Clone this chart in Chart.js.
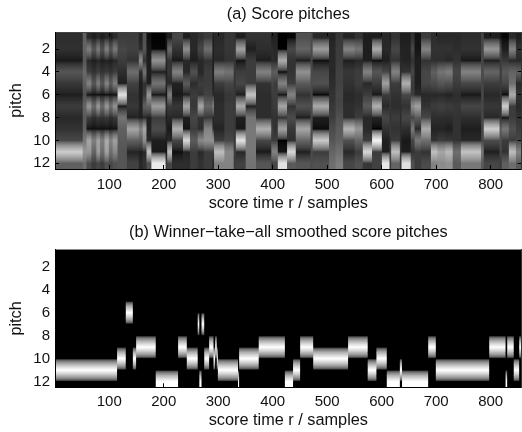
<!DOCTYPE html>
<html><head><meta charset="utf-8">
<style>
html,body{margin:0;padding:0;background:#fff;width:522px;height:432px;overflow:hidden}
.p{position:absolute;left:0;width:522px;height:216px}
canvas{filter:blur(0.35px)}
</style>
<script src="https://cdn.jsdelivr.net/npm/chart.js@4"></script>
</head><body>
<div class="p" style="top:0"><canvas id="a"></canvas></div>
<div class="p" style="top:216px"><canvas id="b"></canvas></div>
<script>
const pitchTicks=[2,4,6,8,10,12];
const timeTicks=[100,200,300,400,500,600,700,800];
const titleA='(a) Score pitches';
const titleB='(b) Winner\u2212take\u2212all smoothed score pitches';
const xLabel='score time r / samples';
const yLabel='pitch';
// Panel (a): column edges in samples, and one grey level per pitch 1..12 for each column
const scoreEdges=[0.5,52,59,68,77,84,92,100,107,116,133,155,162,169,178,204,207,216,236,249,263,274,290,293,312,329,333,351,370,398,402,410,427,443,470,474,504,516,530,551,566,583,601,615,618,634,637,654,661,673,691,703,717,731,746,783,788,817,821,834,847,857];
const c01=[45,48,25,85,55,30,60,40,50,70,205,95];
const c02=[95,100,85,105,95,80,100,90,95,120,150,110];
const c03=[40,125,40,60,130,15,150,60,15,165,150,75];
const c04=[30,85,30,50,85,15,105,45,15,125,100,60];
const c05=[40,120,40,60,125,12,150,55,15,160,155,70];
const c06=[30,80,30,50,85,15,105,50,15,125,110,60];
const c07=[40,125,35,55,130,12,150,55,15,170,160,80];
const c08=[30,85,30,50,90,15,110,45,15,130,110,70];
const c09=[45,120,40,60,125,15,145,55,20,160,135,80];
const c10=[60,70,60,45,30,225,25,115,95,90,85,85];
const c11=[60,65,50,110,65,50,55,35,165,95,35,65];
const c12=[35,45,140,45,30,30,35,30,130,90,30,40];
const c13=[80,85,50,115,50,55,95,40,165,140,40,50];
const c14=[15,25,30,30,30,150,100,30,35,40,195,80];
const c15=[0,5,145,30,115,22,155,60,75,30,25,235];
const c16=[20,20,40,30,40,20,40,30,40,30,20,60];
const c17=[30,105,50,55,40,125,60,40,25,40,190,70];
const c18=[70,50,25,130,35,25,55,40,175,70,15,45];
const c19=[30,140,40,40,90,30,165,30,20,215,35,45];
const c20=[40,40,30,80,45,60,55,70,60,90,60,60];
const c21=[50,70,40,40,60,50,165,50,45,135,40,50];
const c22=[60,110,50,60,60,65,100,55,130,145,60,60];
const c23=[30,30,30,30,30,40,130,40,40,150,60,40];
const c24=[40,45,40,125,60,40,45,45,35,60,190,130];
const c25=[55,55,50,115,70,55,60,60,60,70,135,130];
const c26=[50,55,55,55,55,55,55,55,55,55,60,60];
const c27=[30,160,20,60,70,30,170,30,25,225,40,65];
const c28=[50,30,60,60,60,195,30,115,120,120,120,115];
const c29=[50,45,30,130,50,45,45,45,175,70,25,85];
const c30=[30,45,45,90,70,60,55,50,60,60,130,60];
const c31=[35,40,40,95,60,60,60,50,50,60,130,70];
const c32=[0,0,170,10,130,20,165,50,160,0,20,225];
const c33=[5,70,50,50,60,130,50,75,55,45,215,90];
const c34=[80,100,30,145,90,50,80,30,165,100,30,85];
const c35=[75,75,70,75,75,70,75,70,75,75,75,75];
const c36=[40,155,15,70,80,5,170,30,10,200,60,80];
const c37=[35,40,40,40,45,50,55,60,75,85,100,110];
const c38=[55,60,60,65,65,70,70,80,90,95,110,125];
const c39=[35,130,30,55,50,40,45,45,180,80,40,70];
const c40=[50,115,40,60,60,45,50,60,150,100,60,80];
const c41=[30,30,30,130,40,60,90,40,40,60,215,55];
const c42=[30,170,15,85,60,25,175,35,0,245,60,65];
const c43=[40,40,30,70,160,60,40,70,50,30,30,230];
const c44=[30,40,50,50,60,60,55,50,60,50,60,60];
const c45=[50,70,50,130,60,50,45,60,50,60,190,100];
const c46=[30,35,40,45,50,50,45,45,45,45,50,55];
const c47=[30,35,35,50,175,70,50,70,45,25,30,225];
const c48=[50,70,50,70,60,60,140,70,120,70,50,80];
const c49=[20,20,30,30,30,40,160,90,40,120,60,60];
const c50=[60,130,50,70,70,40,50,70,170,110,50,75];
const c51=[45,50,45,95,75,40,60,45,35,50,190,130];
const c52=[40,50,45,115,85,40,65,45,35,60,165,140];
const c53=[40,50,40,125,80,35,60,45,30,55,185,145];
const c54=[40,45,50,70,60,45,55,50,50,50,110,90];
const c55=[45,50,25,130,70,25,70,45,30,40,195,120];
const c56=[70,70,70,75,70,70,70,70,70,70,120,90];
const c57=[30,150,30,100,60,40,55,40,205,75,30,70];
const c58=[20,70,60,60,60,50,50,50,90,80,70,60];
const c59=[5,30,55,90,70,10,205,20,120,60,50,95];
const c60=[40,130,40,100,110,170,60,60,80,60,190,110];
const c61=[30,50,40,95,40,50,40,50,60,70,130,90];
const scoreColumns=[c01,c02,c03,c04,c05,c06,c07,c08,c09,c10,c11,c12,c13,c14,c15,c16,c17,c18,c19,c20,c21,c22,c23,c24,c25,c26,c27,c28,c29,c30,c31,c32,c33,c34,c35,c36,c37,c38,c39,c40,c41,c42,c43,c44,c45,c46,c47,c48,c49,c50,c51,c52,c53,c54,c55,c56,c57,c58,c59,c60,c61];
// Panel (b): winner pitch over time
const winnerEdges=[0.5,115,131,144,150,186,227,243,263,266,270,275,284,292,295,298,300,337,339,375,423,438,451,475,539,575,591,610,634,638,686,700,798,828,831,843,853,857];
const winnerPitch=[11,10,6,10,9,12,9,10,7,12,7,10,9,10,9,10,11,12,10,9,12,11,9,10,9,11,10,12,11,12,9,11,9,12,9,11,9];
const winnerColumns=winnerPitch.map(w=>Array.from({length:12},(_,i)=>i+1===w?255:0));

const pitches=[1,2,3,4,5,6,7,8,9,10,11,12];
const FS=15, LS=16.3;
function grey(g){g=Math.round(Math.max(0,Math.min(255,g)));return 'rgb('+g+','+g+','+g+')';}
function fixedTicks(vals){return s=>{s.ticks=vals.map(v=>({value:v}));};}
const blackArea={id:'blackArea',beforeDatasetsDraw(ch){const a=ch.chartArea,c=ch.ctx;c.save();c.fillStyle='#000';c.fillRect(a.left,a.top,a.right-a.left,a.bottom-a.top);c.restore();}};
// blends neighbouring pitches in power, so bright rows fade the way the reference does
function mixLevel(a,b,t){return Math.sqrt(a*a*(1-t)+b*b*t);}
function make(id,title,edges,cols,L){
  const rows=[];
  cols.forEach((c,i)=>pitches.forEach(p=>rows.push({x:[edges[i],edges[i+1]],y:p,col:i})));
  const tick={display:true,drawOnChartArea:false,drawTicks:true,tickLength:-4,tickColor:'#000',tickWidth:1,z:1,offset:false};
  new Chart(document.getElementById(id),{
    type:'bar',
    plugins:[blackArea],
    data:{datasets:[{data:rows,xAxisID:'x',yAxisID:'y',categoryPercentage:1,barPercentage:1,grouped:false,
      backgroundColor(ctx){
        const r=ctx.raw;if(!r)return '#000';
        const c=cols[r.col],v=c[r.y-1];
        const up=r.y>1?c[r.y-2]:v,dn=r.y<12?c[r.y]:v;
        const ys=ctx.chart.scales.y;
        const y0=ys.getPixelForValue(r.y-.5),y1=ys.getPixelForValue(r.y+.5);
        if(!isFinite(y0)||!isFinite(y1))return grey(v);
        const g=ctx.chart.ctx.createLinearGradient(0,y0,0,y1);
        for(let k=0;k<=8;k++){const s=k/8,d=s-.5;g.addColorStop(s,grey(d<0?mixLevel(v,up,-d):mixLevel(v,dn,d)));}
        return g;
      }}]},
    options:{
      indexAxis:'y',responsive:false,animation:false,events:[],
      layout:{padding:0},
      plugins:{legend:{display:false},tooltip:{enabled:false},
        title:{display:true,fullSize:false,text:title,color:'#111',font:{family:'"Liberation Sans"',size:LS,weight:'normal',lineHeight:1},
          padding:{top:L.tc-LS/2,bottom:L.top-L.tc-LS/2}}},
      scales:{
        x:{type:'linear',axis:'x',position:'bottom',offset:false,min:0.5,max:857,afterBuildTicks:fixedTicks(timeTicks),afterFit(s){s.height=216-L.bottom;},
          grid:tick,border:{display:true,color:'#000',width:1,z:2},
          ticks:{autoSkip:false,maxRotation:0,padding:L.xp,color:'#111',font:{family:'"Liberation Sans"',size:FS},callback:v=>String(v)},
          title:{display:true,text:xLabel,color:'#111',font:{family:'"Liberation Sans"',size:LS},padding:{top:0,bottom:L.xt}}},
        xTop:{type:'linear',axis:'x',position:'top',offset:false,min:0.5,max:857,afterBuildTicks:fixedTicks(timeTicks),afterFit(s){s.height=0;},
          grid:tick,border:{display:true,color:L.topc,width:1,z:2},ticks:{display:false}},
        y:{type:'linear',axis:'y',position:'left',offset:false,reverse:true,min:0.5,max:12.5,afterBuildTicks:fixedTicks(pitchTicks),afterFit(s){s.width=55;},
          grid:tick,border:{display:true,color:'#000',width:1,z:2},
          ticks:{autoSkip:false,padding:9,color:'#111',font:{family:'"Liberation Sans"',size:FS},callback:v=>String(v)},
          title:{display:true,text:yLabel,color:'#111',font:{family:'"Liberation Sans"',size:LS},padding:{top:7,bottom:0}}},
        yR:{type:'linear',axis:'y',position:'right',offset:false,reverse:true,min:0.5,max:12.5,afterBuildTicks:fixedTicks(pitchTicks),afterFit(s){s.width=0.3;},
          grid:tick,border:{display:true,color:'#333',width:1,z:2},ticks:{display:false}}
      }
    }
  });
}
for(const id of ['a','b']){const c=document.getElementById(id);c.width=522;c.height=216;c.style.width='522px';c.style.height='216px';}
make('a',titleA,scoreEdges,scoreColumns,{top:32,tc:14.5,bottom:169,xp:10.5,xt:3,topc:'#444'});
make('b',titleB,winnerEdges,winnerColumns,{top:33.5,tc:16.5,bottom:171.3,xp:10,xt:2,topc:'#888'});
</script>
</body></html>
